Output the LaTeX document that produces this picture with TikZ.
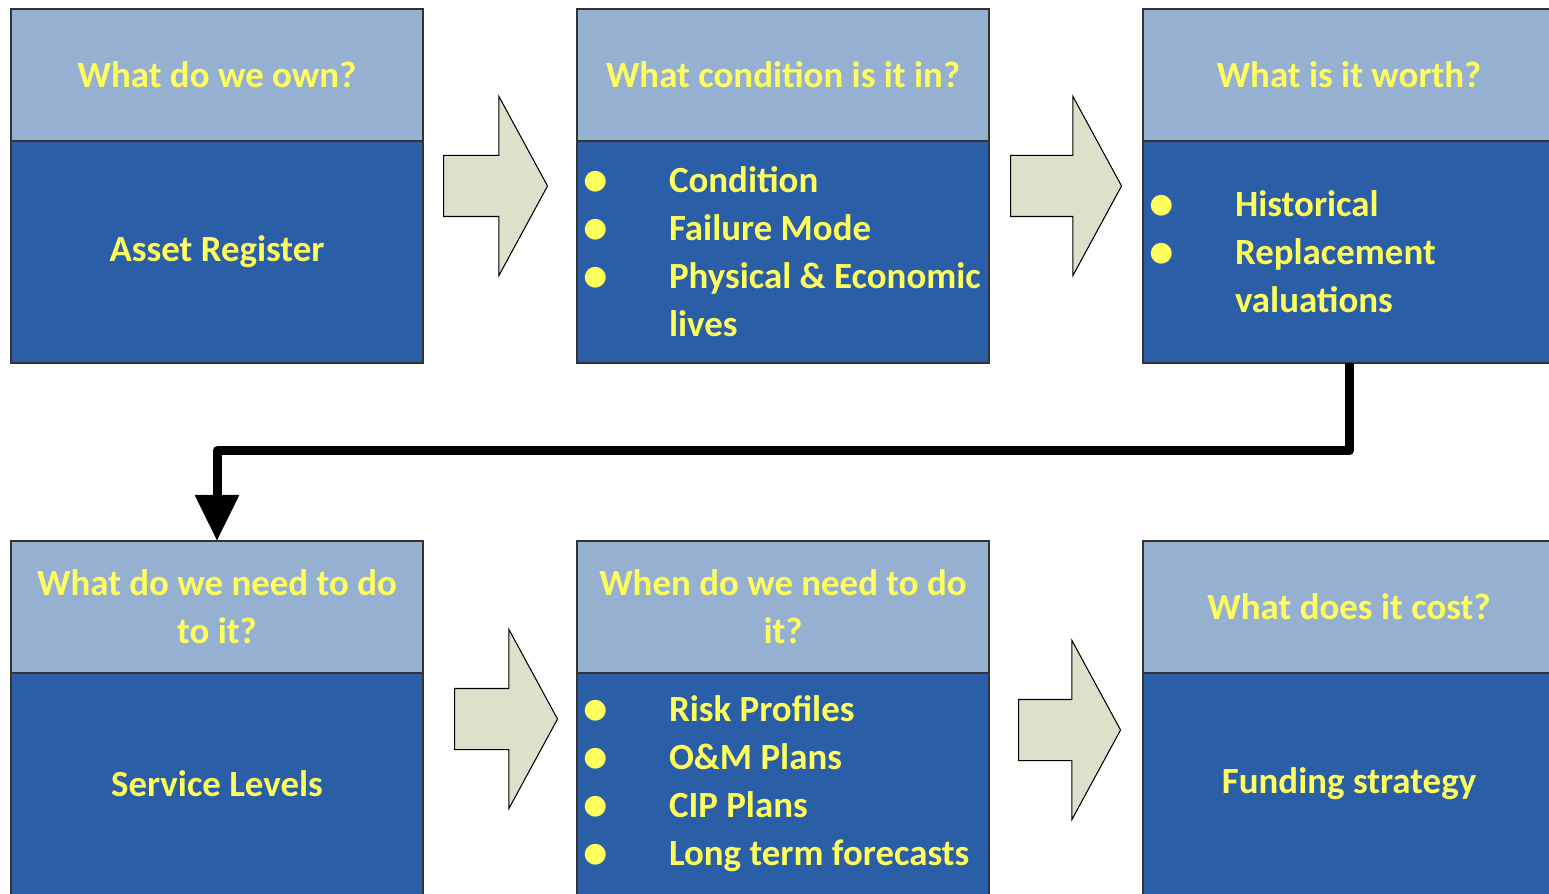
\documentclass[tikz,border=0pt]{standalone}
\usepackage{fontspec}
\setmainfont{Carlito}
\usepackage{xcolor}
\usetikzlibrary{shapes.arrows, arrows.meta, positioning}

\definecolor{headblue}{HTML}{95B0D0}
\definecolor{bodyblue}{HTML}{2A5EA6}
\definecolor{tipyellow}{HTML}{FFFF5E}
\definecolor{arrowsage}{HTML}{DDE1CC}

% bullet with hanging indent for the lists
\newcommand{\blt}{\makebox[1.84cm][l]{\hspace*{0.12cm}\raisebox{-0.06cm}{\fontsize{28}{28}\selectfont\textbullet}}}
\newcommand{\gap}{\hspace*{1.84cm}}

\begin{document}
\begin{tikzpicture}[node distance=3.08cm, font=\fontsize{21}{27.3}\selectfont\bfseries]
    \tikzstyle{headbox} = [rectangle, minimum width=8.24cm, minimum height=2.64cm, inner sep=0, outer sep=0, align=flush center, text=tipyellow, draw=black!80, line width=0.8pt, fill=headblue]
    \tikzstyle{bodybox} = [rectangle, minimum width=8.24cm, minimum height=4.44cm, inner sep=0, outer sep=0, align=flush center, text=tipyellow, draw=black!80, line width=0.8pt, fill=bodyblue]
    \tikzstyle{listbody} = [bodybox, text width=8.24cm, align=flush left]
    \tikzstyle{fatarrow} = [single arrow, draw=black, fill=arrowsage, line width=0.6pt, inner xsep=0, inner ysep=0.6cm, single arrow head extend=1.18cm, single arrow tip angle=123, anchor=tail]
    \tikzstyle{flow} = [line width=0.18cm, line join=round, -{Triangle[width=0.84cm,length=0.92cm]}]

    \useasboundingbox (0,0) rectangle (30.98,-17.88);

    % top row
    \node (own) [headbox] at (4.34,-1.50) {What do we own?};
    \node (register) [bodybox, below=0cm of own] {Asset Register};
    \node (cond) [headbox, right=of own] {What condition is it in?};
    \node (condlist) [listbody, below=0cm of cond] {\blt Condition\\ \blt Failure Mode\\ \blt Physical \& Economic\\ \gap lives};
    \node (worth) [headbox, right=of cond] {What is it worth?};
    \node (vallist) [listbody, below=0cm of worth] {\blt Historical\\ \blt Replacement\\ \gap valuations};

    % bottom row
    \node (need) [headbox, below=3.56cm of register] {What do we need to do\\ to it?};
    \node (service) [bodybox, below=0cm of need] {Service Levels};
    \node (when) [headbox, right=of need] {When do we need to do\\ it?};
    \node (plans) [listbody, below=0cm of when] {\blt Risk Profiles\\ \blt O\&M Plans\\ \blt CIP Plans\\ \blt Long term forecasts};
    \node (cost) [headbox, right=of when] {What does it cost?};
    \node (funding) [bodybox, below=0cm of cost] {Funding strategy};

    % block arrows between boxes
    \node (arr1) [fatarrow, minimum height=2.08cm] at (8.86,-3.72) {};
    \node (arr2) [fatarrow, minimum height=2.22cm] at (20.20,-3.72) {};
    \node (arr3) [fatarrow, minimum height=2.06cm] at (9.08,-14.38) {};
    \node (arr4) [fatarrow, minimum height=2.04cm] at (20.36,-14.60) {};

    \draw [flow] (vallist.south) -- ++(0,-1.76) -| (need.north);
\end{tikzpicture}
\end{document}
